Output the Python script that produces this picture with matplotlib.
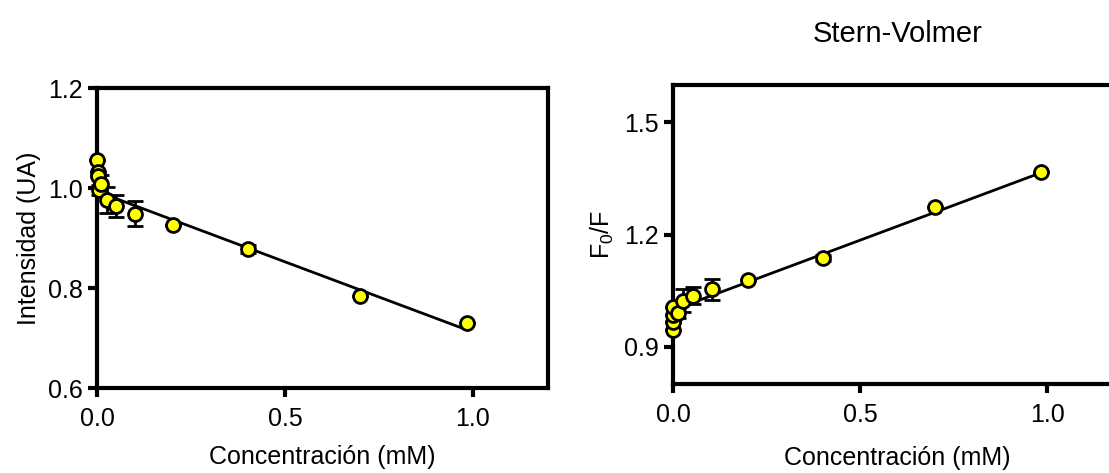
import numpy as np
from matplotlib import pyplot as plt

plt.rcParams['font.family'] = ['Liberation Sans', 'DejaVu Sans']
plt.rcParams['mathtext.default'] = 'regular'

# intensity vs quencher concentration
conc_int = [0.0, 0.001, 0.002, 0.005, 0.01, 0.025, 0.05, 0.1, 0.2, 0.4, 0.7, 0.985]
intensity = [1.057, 1.033, 1.024, 0.996, 1.008, 0.977, 0.964, 0.949, 0.926, 0.878, 0.784, 0.731]
intensity_err = [0.0, 0.0, 0.0, 0.010, 0.018, 0.026, 0.022, 0.025, 0.0, 0.008, 0.0, 0.0]
fit_int_x = [0.003, 0.985]
fit_int_y = [0.992, 0.716]

# Stern-Volmer F0/F
conc_sv = [0.0, 0.0, 0.0, 0.0, 0.011, 0.026, 0.053, 0.102, 0.2, 0.399, 0.699, 0.983]
f0_f = [0.945, 0.967, 0.985, 1.007, 0.989, 1.023, 1.036, 1.053, 1.078, 1.136, 1.273, 1.367]
f0_f_err = [0.0, 0.0, 0.0, 0.0, 0.012, 0.030, 0.023, 0.027, 0.0, 0.008, 0.0, 0.0]
fit_sv_x = [0.012, 0.985]
fit_sv_y = [1.003, 1.366]

FS = 18


def style_axes(ax):
    for s in ax.spines.values():
        s.set_linewidth(3)
    ax.tick_params(axis='both', which='major', direction='out', length=6.5, width=3,
                   labelsize=FS, pad=4, top=False, right=False)
    ax.tick_params(axis='x', pad=7)


def draw_points(ax, x, y, err):
    ax.errorbar(x, y, yerr=err, fmt='o', color='black',
                ecolor='black', elinewidth=2, capsize=6, capthick=2,
                markerfacecolor='#ffff00', markeredgecolor='black', markeredgewidth=2,
                markersize=10, zorder=3, clip_on=False)


fig = plt.figure(figsize=(11.09, 4.73), dpi=100)

ax1 = fig.add_axes([0.0879, 0.1797, 0.4062, 0.634])
ax1.plot(fit_int_x, fit_int_y, color='black', lw=2, zorder=2)
draw_points(ax1, conc_int, intensity, intensity_err)
ax1.set_xlim(0, 1.2)
ax1.set_ylim(0.6, 1.2)
ax1.set_xticks([0.0, 0.5, 1.0])
ax1.set_yticks([0.6, 0.8, 1.0, 1.2])
ax1.xaxis.set_major_formatter(plt.FormatStrFormatter('%.1f'))
ax1.yaxis.set_major_formatter(plt.FormatStrFormatter('%.1f'))
style_axes(ax1)
ax1.set_xlabel('Concentración (mM)', fontsize=FS, labelpad=10)
ax1.set_ylabel('Intensidad (UA)', fontsize=FS, labelpad=5)

ax2 = fig.add_axes([0.6073, 0.1882, 0.4044, 0.632])
ax2.plot(fit_sv_x, fit_sv_y, color='black', lw=2, zorder=2)
draw_points(ax2, conc_sv, f0_f, f0_f_err)
ax2.set_xlim(0, 1.2)
ax2.set_ylim(0.8, 1.6)
ax2.set_xticks([0.0, 0.5, 1.0])
ax2.set_yticks([0.9, 1.2, 1.5])
ax2.xaxis.set_major_formatter(plt.FormatStrFormatter('%.1f'))
ax2.yaxis.set_major_formatter(plt.FormatStrFormatter('%.1f'))
style_axes(ax2)
ax2.set_xlabel('Concentración (mM)', fontsize=FS, labelpad=14)
ax2.set_ylabel('F$_0$/F', fontsize=FS, labelpad=6)
ax2.set_title('Stern-Volmer', fontsize=21, pad=31)

fig.savefig('out.png', dpi=100)
